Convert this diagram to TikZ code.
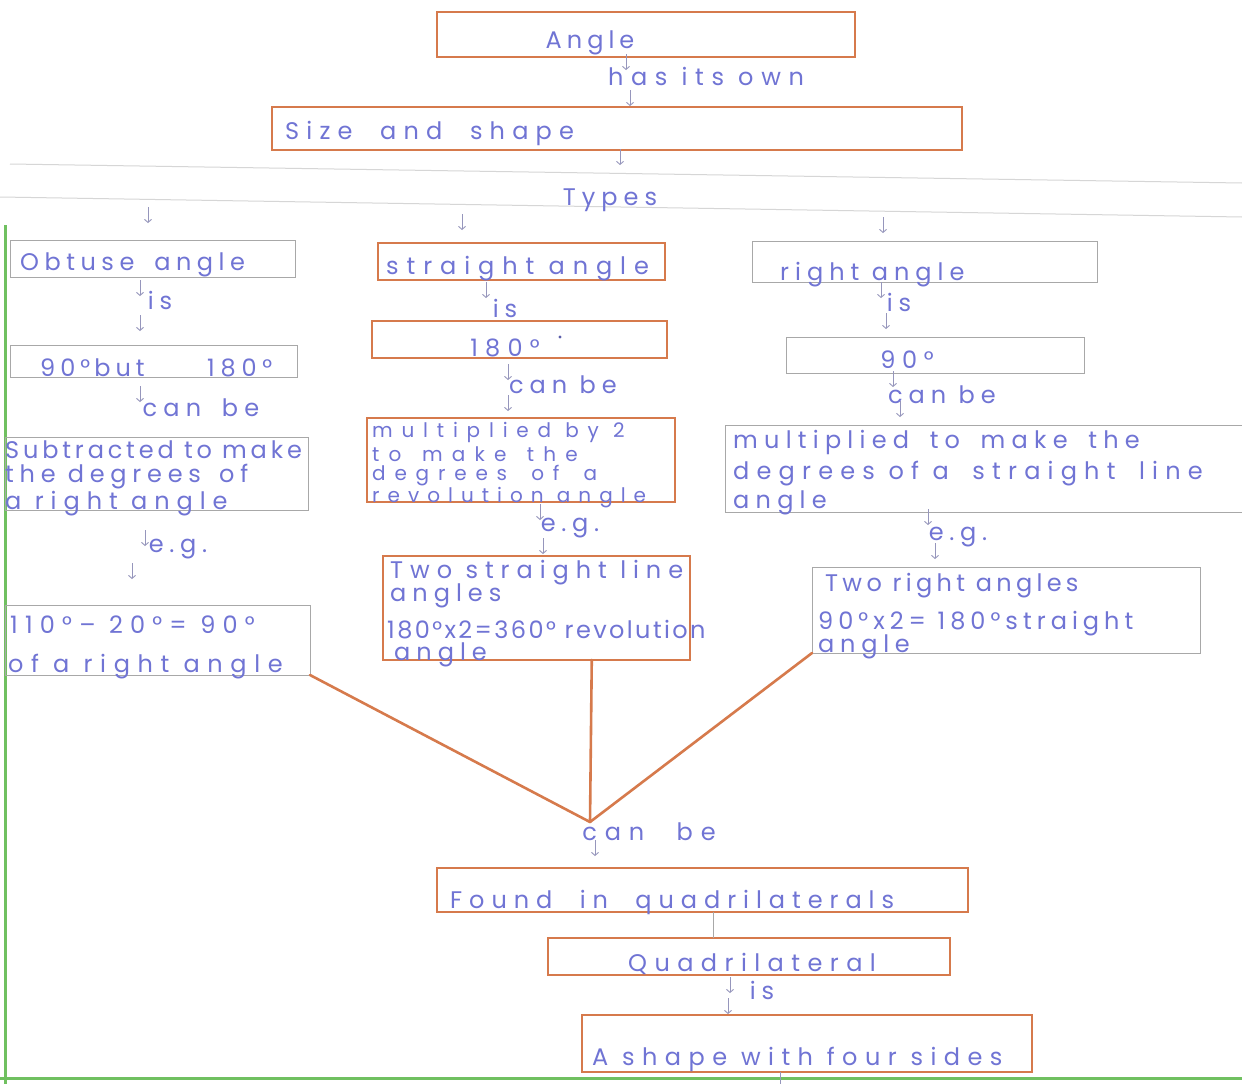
\documentclass[tikz,border=0pt]{standalone}
\usepackage{fontspec}
\setmainfont{Poppins}
\usetikzlibrary{arrows.meta,calc}
\definecolor{ink}{RGB}{112,116,212}
\definecolor{crayon}{RGB}{214,122,76}
\definecolor{pencil}{RGB}{168,168,168}
\definecolor{ruling}{RGB}{214,214,214}
\definecolor{margin}{RGB}{112,192,96}
\definecolor{tick}{RGB}{150,150,188}

\begin{document}
\begin{tikzpicture}[x=1pt,y=-1pt,
  obox/.style={draw=crayon, line width=2pt, inner sep=0pt, outer sep=0pt},
  gbox/.style={draw=pencil, line width=1pt, inner sep=0pt, outer sep=0pt},
  ls/.style={font=\fontsize{24}{27}\selectfont\addfontfeature{LetterSpace=#1}},
  lsz/.style 2 args={font=\fontsize{#2}{#2}\selectfont\addfontfeature{LetterSpace=#1}},
  hand/.style={text=ink, inner sep=0pt, ls=24},
  handl/.style={hand, anchor=west, align=left},
  handc/.style={hand, anchor=center},
  link/.style={draw=crayon, line width=2.6pt, line cap=round},
  dn/.pic={\draw[tick, line width=0.9pt, -{Straight Barb[length=3pt,width=7pt]}] (0,-8) -- (0,8);}
]
% page
\useasboundingbox (0,0) rectangle (1242,1084);
\fill[white] (0,0) rectangle (1242,1084);

% ruled paper lines and margins
\draw[ruling, line width=1pt] (10,164) -- (1242,183);
\draw[ruling, line width=1pt] (0,197) -- (1242,217);
\draw[margin, line width=3pt] (5,225) -- (5,1084);
\draw[margin, line width=3pt] (0,1078) -- (1242,1078);

% ---- top chain
\node[obox, minimum width=418, minimum height=45] (angle) at (646,34.5) {};
\node[handc, ls=21] (tangle) at (590,43) {Angle};
\pic at (626,62) {dn};
\node[handc, ls=32] (lown) at (706,76) {has its own};
\pic at (630,98) {dn};
\node[obox, minimum width=690, minimum height=43] (size) at (617,128.5) {};
\node[handl, ls=30] (tsize) at (285,133) {Size\hspace{14pt} and\hspace{14pt} shape};
\pic at (620,157) {dn};
\node[handc, ls=25] (ltypes) at (610,200) {Types};
\pic at (148,215) {dn};
\pic at (462,222) {dn};
\pic at (883,225) {dn};

% ---- left column: obtuse angle
\node[gbox, minimum width=285, minimum height=37] (obt) at (152.5,258.5) {};
\node[handl, ls=23] (tobt) at (20,265) {Obtuse\hspace{8pt} angle};
\pic at (140,288) {dn};
\node[handc] (lis1) at (160,300) {is};
\pic at (140,323) {dn};
\node[gbox, minimum width=287, minimum height=32] (obtdeg) at (153.5,361) {};
\node[handl, ls=21] (tobtdeg) at (40,368) {90°\,but};
\node[handl, ls=24] (tobtdegb) at (207,368) {180°};
\pic at (140,394) {dn};
\node[handc, ls=26] (lcan1) at (201,408) {can\hspace{8pt} be};
\node[gbox, minimum width=303, minimum height=73] (sub) at (156.5,473.5) {};
\node[handl, ls=16] (tsuba) at (5,450) {Subtracted to make};
\node[handl, ls=24] (tsubb) at (5,477) {the degrees\hspace{6pt} of};
\node[handl, ls=29] (tsubc) at (5,504) {a right angle};
\pic at (145,538) {dn};
\node[handc] (leg1) at (178,549) {e.g.};
\pic at (132,571) {dn};
\node[gbox, minimum width=305, minimum height=70] (ex1) at (157.5,640) {};
\node[handl, ls=30] (tex1a) at (10,625) {110°– 20°= 90°};
\node[handl, ls=32] (tex1b) at (8,667) {of a right angle};

% ---- middle column: straight angle
\node[obox, minimum width=287, minimum height=37] (str) at (521.5,261.5) {};
\node[handl, ls=33] (tstr) at (386,269) {straight angle};
\pic at (486,290) {dn};
\node[handc] (lis2) at (505,308) {is};
\node[obox, minimum width=295, minimum height=37] (strdeg) at (519.5,339.5) {};
\node[handc, ls=30] (tstrdeg) at (505,348) {180°};
\fill[ink!80!black] (560,337) circle (1.6);
\pic at (508,372) {dn};
\node[handc, ls=25] (lcan2) at (563,385) {can be};
\pic at (508,403) {dn};
\node[obox, minimum width=308, minimum height=84] (mul) at (521,460) {};
\node[handl, lsz={44}{20}] (tmula) at (372,432) {multiplied by 2};
\node[handl, lsz={46}{20}] (tmulb) at (372,454) {to\hspace{6pt} make\hspace{6pt} the};
\node[handl, lsz={44}{20}] (tmulc) at (372,476) {degrees\hspace{10pt} of\hspace{10pt} a};
\node[handl, lsz={40}{20}] (tmuld) at (372,498) {revolution angle};
\pic at (540,512) {dn};
\node[handc] (leg2) at (570,528) {e.g.};
\pic at (543,546) {dn};
\node[obox, minimum width=307, minimum height=104] (twostr) at (536.5,608) {};
\node[handl, ls=29] (ttwostra) at (390,573) {Two straight line};
\node[handl, ls=25] (ttwostrb) at (390,596) {angles};
\node[handl, ls=10] (ttwostrc) at (387,630) {180°x2=360° revolution};
\node[handl, ls=25] (ttwostrd) at (394,655) {angle};

% ---- right column: right angle
\node[gbox, minimum width=345, minimum height=41] (rgt) at (924.5,261.5) {};
\node[handl, ls=25] (trgt) at (780,275) {right angle};
\pic at (881,290) {dn};
\node[handc] (lis3) at (899,302) {is};
\pic at (886,321) {dn};
\node[gbox, minimum width=298, minimum height=36] (rgtdeg) at (935,355) {};
\node[handc, ls=28] (trgtdeg) at (907,360) {90°};
\pic at (893,379) {dn};
\node[handc, ls=25] (lcan3) at (942,395) {can be};
\pic at (900,409) {dn};
\node[gbox, minimum width=517, minimum height=87] (mulr) at (983.5,468.5) {};
\node[handl, ls=26] (tmulra) at (733,442) {multiplied\hspace{8pt} to\hspace{8pt} make\hspace{8pt} the};
\node[handl, ls=30] (tmulrb) at (733,474) {degrees of a\hspace{10pt} straight\hspace{10pt} line};
\node[handl, ls=26] (tmulrc) at (733,503) {angle};
\pic at (928,517) {dn};
\node[handc] (leg3) at (958,537) {e.g.};
\pic at (935,551) {dn};
\node[gbox, minimum width=388, minimum height=86] (tworgt) at (1006,610) {};
\node[handl, ls=18] (ttworgta) at (825,586) {Two right angles};
\node[handl, ls=21] (ttworgtb) at (818,624) {90°x2= 180°straight};
\node[handl, ls=24] (ttworgtc) at (818,647) {angle};

% ---- joining lines
\coordinate (join) at (590,822);
\draw[link] (ex1.south east) -- (join);
\draw[link] ($(twostr.south west)!0.68!(twostr.south east)$) -- (join);
\draw[link] (tworgt.south west) -- (join);
\node[handc, ls=33] (lcan4) at (649,832) {can\hspace{18pt} be};
\pic at (595,848) {dn};

% ---- bottom chain
\node[obox, minimum width=531, minimum height=44] (found) at (702.5,890) {};
\node[handl, ls=29] (tfound) at (450,902) {Found\hspace{14pt} in\hspace{14pt} quadrilaterals};
\node[obox, minimum width=402, minimum height=37] (quad) at (749,956.5) {};
\node[handc, ls=31] (tquad) at (752,964) {Quadrilateral};
\coordinate (tickx) at (713,0);
\draw[pencil, line width=0.8pt] (found.south -| tickx) -- (quad.north -| tickx);
\pic at (730,985) {dn};
\node[handc] (lis4) at (762,990) {is};
\pic at (728,1006) {dn};
\node[obox, minimum width=450, minimum height=57] (shape) at (807,1043.5) {};
\node[handl, ls=31] (tshape) at (592,1059) {A shape with four sides};
\pic at (780,1080) {dn};
\end{tikzpicture}
\end{document}
